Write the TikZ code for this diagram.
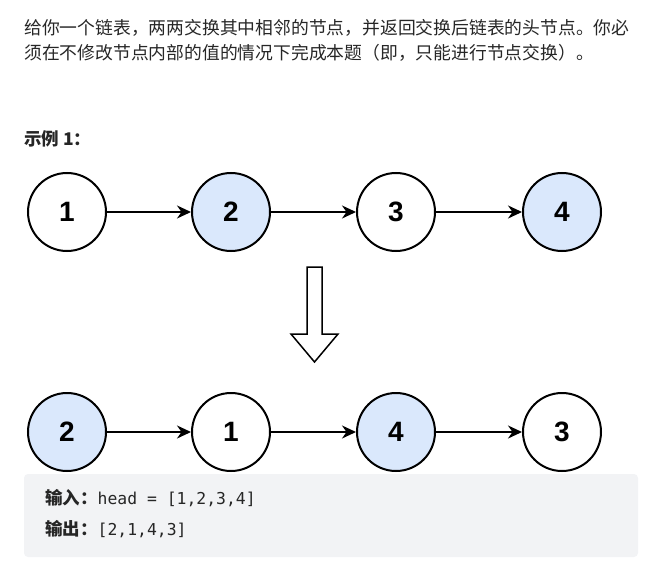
\documentclass[tikz,border=0pt]{standalone}
\usepackage{fontspec}
\setmainfont{Noto Sans CJK SC}
\newfontfamily\numfont{Liberation Sans}
\newfontfamily\codefont{DejaVu Sans Mono}
\usepackage{xcolor}
\usetikzlibrary{arrows.meta}
\usetikzlibrary{positioning}

\definecolor{nodeblue}{HTML}{DAE8FC}
\definecolor{codegray}{HTML}{F2F3F5}
\definecolor{textgray}{HTML}{262626}

\tikzset{
  lnode/.style={draw, circle, line width=2pt, minimum size=78pt, inner sep=0pt,
    font=\numfont\bfseries\fontsize{28}{28}\selectfont},
  lnodeb/.style={lnode, fill=nodeblue},
  nextptr/.style={line width=2pt, -{Stealth[length=14pt,width=13pt]}},
  cntext/.style={anchor=west, inner sep=0pt, text=textgray, font=\fontsize{17.8}{20}\selectfont}
}

\begin{document}
\begin{tikzpicture}[x=1pt, y=-1pt]
  \useasboundingbox (0,0) rectangle (666,564);

  % Problem text
  \node[cntext] (q1) at (24,28) {给你一个链表，两两交换其中相邻的节点，并返回交换后链表的头节点。你必};
  \node[cntext] (q2) at (24,53) {须在不修改节点内部的值的情况下完成本题（即，只能进行节点交换）。};
  \node[cntext, font=\bfseries\fontsize{17.5}{20}\selectfont] (ex) at (24,139) {示例 1：};

  % Original list
  \node[lnode] (a1) at (67,212) {1};
  \node[lnodeb] (a2) at (231,212) {2};
  \node[lnode] (a3) at (396,212) {3};
  \node[lnodeb] (a4) at (562,212) {4};

  \draw[nextptr] (a1) -- (a2);
  \draw[nextptr] (a2) -- (a3);
  \draw[nextptr] (a3) -- (a4);

  % Hollow arrow
  \draw[line width=1.5pt, line join=miter] (307,267) -- (322,267) -- (322,334) -- (338,334)
    -- (314.5,362) -- (291,334) -- (307,334) -- cycle;

  % Swapped list
  \node[lnodeb] (b2) at (67,432) {2};
  \node[lnode] (b1) at (231,432) {1};
  \node[lnodeb] (b4) at (396,432) {4};
  \node[lnode] (b3) at (562,432) {3};

  \draw[nextptr] (b2) -- (b1);
  \draw[nextptr] (b1) -- (b4);
  \draw[nextptr] (b4) -- (b3);

  % Example box
  \fill[codegray, rounded corners=4pt] (24,474) rectangle (638,557);
  \node[cntext, font=\bfseries\fontsize{17.5}{20}\selectfont] (in) at (45,498)
    {输入：{\mdseries\codefont\fontsize{16.4}{20}\selectfont head = [1,2,3,4]}};
  \node[cntext, font=\bfseries\fontsize{17.5}{20}\selectfont] (out) at (45,529)
    {输出：{\mdseries\codefont\fontsize{16.4}{20}\selectfont [2,1,4,3]}};
\end{tikzpicture}
\end{document}
